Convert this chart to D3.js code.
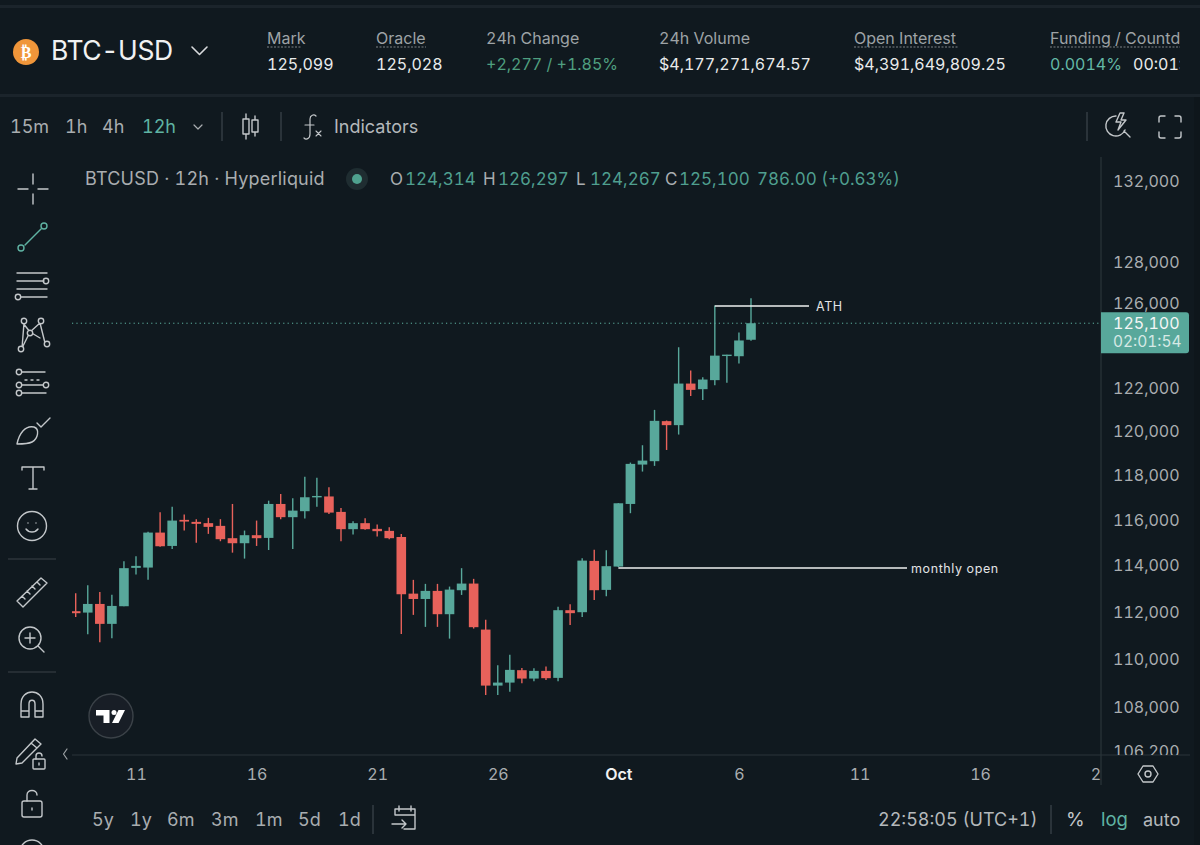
<![CDATA[<!DOCTYPE html>
<html><head><meta charset="utf-8">
<script src="https://cdnjs.cloudflare.com/ajax/libs/d3/7.9.0/d3.min.js"></script>
<style>html,body{margin:0;background:#10191f;overflow:hidden}svg{display:block}text{font-family:Inter,"Noto Sans",sans-serif;font-variant-numeric:tabular-nums;font-feature-settings:"tnum" 1}</style>
</head><body><svg id="c" width="1200" height="845"></svg>
<script>
const firstCandle = "2025-09-08T12:00:00Z";
const opens  = [112084,112025,112395,111544,112297,113953,113966,115497,114910,116058,115970,115913,115793,115250,115029,115382,115263,116765,116178,116443,117064,117100,116412,115647,115913,115661,115572,115303,112838,112608,112956,111956,112985,113272,111301,108948,109073,109590,109240,109561,109269,112127,112042,114256,112999,114009,116765,118533,118686,120513,120329,122253,121992,122413,123549,123535,124314];
const highs  = [112856,113202,112912,112795,114243,114460,115530,116399,116646,116293,116089,116147,116089,116765,115586,116027,116911,117212,117019,117978,117933,117514,116589,116001,116133,115851,115736,115436,113432,113259,113259,113142,113940,113476,111714,109799,110241,109686,109673,109740,112280,112382,114373,114746,114720,116800,118623,119411,121032,120540,123959,122862,122553,125943,123610,124655,126297];
const lows   = [111841,111105,110764,110935,112297,113662,113432,114879,114777,115586,115055,115440,115117,114616,114356,114910,114733,116089,114777,116116,116646,116323,115117,115409,115617,115320,115206,111118,111927,111416,111416,110918,112782,111344,108560,108560,108697,109048,109131,109185,109131,111501,111841,112565,112725,113990,116354,118217,118474,119195,119898,121678,121491,122179,122286,123189,124267];
const closes = [111999,112395,111544,112310,113940,114039,115497,114896,116027,115983,115882,115749,115206,115029,115382,115250,116765,116178,116469,117064,117122,116381,115647,115913,115647,115559,115250,112812,112608,112956,111956,113012,113272,111403,108948,109073,109603,109240,109561,109256,112127,112000,114269,112986,114026,116796,118564,118713,120527,120329,122253,121959,122441,123563,123610,124280,125100];
const priceTicks = [106200,108000,110000,112000,114000,116000,118000,120000,122000,126000,128000,132000];
const dateTicks = ["2025-09-11","2025-09-16","2025-09-21","2025-09-26","2025-10-01","2025-10-06","2025-10-11","2025-10-16","2025-10-21"];
const dateLabels = ["11","16","21","26","Oct","6","11","16","21"];
const lastPrice = 125100, athPrice = 125926, monthlyOpen = 113947;

const BG="#10191f", UP="#58a89b", DOWN="#e8625b", TEAL="#5fb3a3", TXT="#a9adb0", WHITE="#e9ebec", LINE="#2b343a", ICON="#c3c7ca";
const svg=d3.select("#c");
const defs=svg.append("defs");
defs.append("clipPath").attr("id","plot").append("rect").attr("x",72).attr("y",157).attr("width",1029).attr("height",598);
defs.append("clipPath").attr("id","axisY").append("rect").attr("x",1102).attr("y",157).attr("width",98).attr("height",598);
defs.append("clipPath").attr("id","axisX").append("rect").attr("x",72).attr("y",756).attr("width",1029).attr("height",34);
defs.append("clipPath").attr("id","head").append("rect").attr("x",0).attr("y",0).attr("width",1180).attr("height",95);

svg.append("rect").attr("width",1200).attr("height",845).attr("fill",BG);
[[0,5,1200,3],[0,94,1200,3]].forEach(r=>svg.append("rect").attr("x",r[0]).attr("y",r[1]).attr("width",r[2]).attr("height",r[3]).attr("fill","#1b242b"));
svg.append("rect").attr("x",1194).attr("y",97).attr("width",6).attr("height",748).attr("fill","#0e161b");

const txt=(g,x,y,s,o={})=>g.append("text").attr("x",x).attr("y",y).attr("font-size",o.size||16).attr("fill",o.fill||TXT).attr("font-weight",o.weight||400).attr("text-anchor",o.anchor||"start").style("letter-spacing",(o.ls||0)+"px").text(s);
const stroke=(g,c=ICON,w=1.4)=>g.attr("fill","none").attr("stroke",c).attr("stroke-width",w).attr("stroke-linecap","round").attr("stroke-linejoin","round");

// ---- header
const head=svg.append("g").attr("clip-path","url(#head)");
head.append("circle").attr("cx",26).attr("cy",52).attr("r",13).attr("fill","#f0963a");
txt(head,26,58,"₿",{size:16,fill:"#fff",weight:700,anchor:"middle"}).style("font-family","'DejaVu Sans'");
txt(head,51,60,"BTC-USD",{size:26.5,fill:"#f0f1f2",weight:400,ls:-.4});
stroke(head.append("path").attr("d","M192 47l7.5 7.5L207 47"),"#d8dadc",1.6);
[["Mark",267,34],["Oracle",376,50],["24h Change",486,0],["24h Volume",659,0],["Open Interest",854,104],["Funding / Countdown",1050,200]].forEach(d=>{
  txt(head,d[1],44,d[0],{fill:"#9ea3a6"});
  if(d[2]) head.append("line").attr("x1",d[1]).attr("x2",d[1]+d[2]).attr("y1",47).attr("y2",47).attr("stroke","#7d8387").attr("stroke-dasharray","2 1.5");
});
[["125,099",267,WHITE],["125,028",376,WHITE],["+2,277 / +1.85%",486,"#4f9f7f"],["$4,177,271,674.57",659,WHITE],["$4,391,649,809.25",854,WHITE],["0.0014%",1050,"#63b8a6"],["00:01:54",1133,WHITE]].forEach(d=>txt(head,d[1],70,d[0],{fill:d[2]}));

// ---- toolbar
[["15m",10,TXT],["1h",65,TXT],["4h",102,TXT],["12h",142,TEAL]].forEach(d=>txt(svg,d[1],133,d[0],{size:18,fill:d[2]}));
stroke(svg.append("path").attr("d","M194 125l4 4 4-4"),"#a9adb0",1.2);
[222,281,1087].forEach(x=>svg.append("line").attr("x1",x).attr("x2",x).attr("y1",112).attr("y2",141).attr("stroke","#3a4349").attr("stroke-width",1.3));
stroke(svg.append("path").attr("d","M246 114v5M246 134v5M243 119h6v15h-6zM255 116v4M255 132v4M252 120h6v12h-6z"));
stroke(svg.append("path").attr("d","M316 116c-2-2-6-1-6 3v15c0 5-4 6-6 4M305 125h9"),ICON,1.2);
stroke(svg.append("path").attr("d","M316 131l5 5M321 131l-5 5"),ICON,1.1);
txt(svg,334,133,"Indicators",{size:18,fill:"#b4b8bb"});
stroke(svg.append("path").attr("d","M1116 116a10 10 0 1 0 9 14M1120 113l-4 9h5l-3 8 8-10h-5l3-7zM1124 131l6 6"));
stroke(svg.append("path").attr("d","M1159 122v-4a2 2 0 0 1 2-2h4M1175 116h4a2 2 0 0 1 2 2v4M1181 132v4a2 2 0 0 1-2 2h-4M1165 138h-4a2 2 0 0 1-2-2v-4"));

// ---- scales
const yScale=d3.scaleLog().domain([108000,132000]).range([708.5,182.5]);
const t0=new Date(firstCandle);
const dates=opens.map((_,i)=>d3.utcHour.offset(t0,12*i));
const xScale=d3.scaleUtc().domain([dates[0],dates[dates.length-1]]).range([75.7,751]);
const candles=opens.map((o,i)=>({t:dates[i],o,h:highs[i],l:lows[i],c:closes[i]}));

// ---- frame lines
svg.append("line").attr("x1",72).attr("x2",1190).attr("y1",755).attr("y2",755).attr("stroke",LINE).attr("stroke-width",1.2);
svg.append("line").attr("x1",1101).attr("x2",1101).attr("y1",157).attr("y2",785).attr("stroke",LINE).attr("stroke-width",1.2);

// ---- axes
const yAxis=d3.axisRight(yScale).tickValues(priceTicks).tickSize(0).tickPadding(0).tickFormat(d3.format(","));
const gy=svg.append("g").attr("clip-path","url(#axisY)").append("g").attr("transform","translate(1113,-1)").call(yAxis);
gy.select(".domain").remove();
gy.selectAll("text").attr("x",0).attr("font-size",16).attr("fill",TXT).style("font-family","Inter");

const xAxis=d3.axisBottom(xScale).tickValues(dateTicks.map(d=>new Date(d+"T00:00:00Z"))).tickSize(0).tickPadding(0).tickFormat((d,i)=>dateLabels[i]);
const gx=svg.append("g").attr("clip-path","url(#axisX)").append("g").attr("transform","translate(0,768.5)").call(xAxis);
gx.select(".domain").remove();
gx.selectAll("text").attr("font-size",16).attr("fill",(d,i)=>dateLabels[i]==="Oct"?"#f0f1f2":TXT).attr("font-weight",(d,i)=>dateLabels[i]==="Oct"?600:400).style("font-family","Inter");

// ---- plot
const plot=svg.append("g").attr("clip-path","url(#plot)");
plot.append("line").attr("x1",72).attr("x2",1101).attr("y1",yScale(lastPrice)).attr("y2",yScale(lastPrice)).attr("stroke",TEAL).attr("stroke-width",1).attr("stroke-dasharray","1.2 3.2");
const cg=plot.selectAll("g.candle").data(candles).join("g").attr("class","candle");
cg.append("line").attr("x1",d=>xScale(d.t)).attr("x2",d=>xScale(d.t)).attr("y1",d=>yScale(d.h)).attr("y2",d=>yScale(d.l)).attr("stroke",d=>d.c>=d.o?UP:DOWN).attr("stroke-width",1.4);
cg.append("rect").attr("x",d=>xScale(d.t)-4.8).attr("width",9.6).attr("y",d=>yScale(Math.max(d.o,d.c))).attr("height",d=>Math.max(1.4,Math.abs(yScale(d.o)-yScale(d.c)))).attr("fill",d=>d.c>=d.o?UP:DOWN);

// annotations
const ann=(dateA,px,x2,label,lx)=>{
  const y=yScale(px);
  plot.append("line").attr("x1",xScale(new Date(dateA))).attr("x2",x2).attr("y1",y).attr("y2",y).attr("stroke","#eef0f0").attr("stroke-width",1.5);
  txt(plot,lx,y+5.5,label,{size:12.5,fill:"#e2e4e5",ls:.6});
};
ann("2025-10-05T00:00:00Z",athPrice,809,"ATH",816);
ann("2025-10-01T00:00:00Z",monthlyOpen,907,"monthly open",911);

// legend
txt(svg,85,185,"BTCUSD · 12h · Hyperliquid",{size:18,fill:"#a9adb0",ls:.2});
svg.append("circle").attr("cx",357).attr("cy",179).attr("r",11).attr("fill","#1f2d31");
svg.append("circle").attr("cx",357).attr("cy",179).attr("r",5).attr("fill","#4fa28f");
[["O",390,"124,314",405],["H",483,"126,297",498],["L",576,"124,267",590],["C",665,"125,100",679]].forEach(d=>{
  txt(svg,d[1],185,d[0],{size:17,fill:"#a9adb0"});
  txt(svg,d[3],185,d[2],{size:17,fill:"#4f9f8f"});
});
txt(svg,757,185,"786.00 (+0.63%)",{size:17,fill:"#4f9f8f"});

// price tag
const tag=yScale(lastPrice);
svg.append("path").attr("d",`M1101 ${tag-11}H1186a3 3 0 0 1 3 3V${tag+27}a3 3 0 0 1-3 3H1101Z`).attr("fill",UP);
txt(svg,1113,tag+6,d3.format(",")(lastPrice),{fill:"#f4f6f6"});
txt(svg,1113,tag+24,"02:01:54",{fill:"#d5e9e5",size:15.5});

// ---- left tools
const T=(x,y)=>stroke(svg.append("g").attr("transform",`translate(${x},${y})`));
let g=T(33,189);g.append("path").attr("d","M0-15v10M0 5v10M-15 0h10M5 0h10");
g=T(33,237);stroke(g,TEAL);g.append("path").attr("d","M-8 8L8-8");g.append("circle").attr("cx",-12).attr("cy",11).attr("r",3);g.append("circle").attr("cx",11).attr("cy",-11).attr("r",3);
g=T(33,286);g.append("path").attr("d","M-16-13H14M-16-5H11M-16 3H14M-12 11H14");g.append("circle").attr("cx",13).attr("cy",-5).attr("r",2.7);g.append("circle").attr("cx",-15).attr("cy",11).attr("r",2.7);
g=T(33,334);g.append("path").attr("d","M-10-11L-3-2M-3-2L7-11M7-11L12 9M7 4L-3-2M-3-2L-11 14M-11 14L-9-11");[[-9,-13],[8,-13],[-3,-1],[-12,15],[14,10]].forEach(p=>g.append("circle").attr("cx",p[0]).attr("cy",p[1]).attr("r",2.7).attr("fill",BG));
g=T(33,382);g.append("path").attr("d","M-11-10H12M-11 3H10M-11 11H13");g.append("path").attr("d","M-8-2H10").attr("stroke-dasharray","2 4");[[-14,-10],[-14,3],[-14,11],[13,3]].forEach(p=>g.append("circle").attr("cx",p[0]).attr("cy",p[1]).attr("r",2.7));
g=T(33,431);g.append("path").attr("d","M-16 13C-14 3-8-6 1-4C7-2 5 8 -1 11C-5 13-11 13-16 13ZM4-8l4 4 9-9");
g=T(33,478);g.append("path").attr("d","M-11-8V-11H11V-8M0-11V11M-4 11H4");
g=T(32,526);g.append("circle").attr("r",14.5);g.append("path").attr("d","M-6 3C-3 7 3 7 6 3M-4-3V-3M4-3V-3");
[559,672].forEach(y=>svg.append("line").attr("x1",8).attr("x2",56).attr("y1",y).attr("y2",y).attr("stroke","#3a4349"));
g=T(32,592);g.append("path").attr("d","M-15 9L9-14L15-9L-9 15ZM-10 4l3 3M-5-1l3 3M0-6l3 3M5-10l3 3");
g=T(31,639);g.append("circle").attr("cx",-1).attr("cy",-1).attr("r",11);g.append("path").attr("d","M7 7L13 13M-6-1H4M-1-6V4");
g=T(32,705);g.append("path").attr("d","M-11 12H-3V-1C-3-6 3-6 3-1V12H11V-1C11-17-11-17-11-1ZM-11 6H-3M3 6H11");
g=T(30,750);g.append("path").attr("d","M-13 8L5-11L11-6L-8 13L-14 14ZM1-7L7-2");g=T(39,760);g.append("rect").attr("x",-6).attr("y",-1).attr("width",12).attr("height",10).attr("rx",1);g.append("path").attr("d","M-3-1V-4C-3-8 3-8 3-4M0 3V5");
g=T(32,803);g.append("rect").attr("x",-10).attr("y",-2).attr("width",20).attr("height",16).attr("rx",2);g.append("path").attr("d","M-5-2V-8C-5-14 5-14 5-8M0 5V7");
g=T(32,852);g.append("circle").attr("r",12);
stroke(svg.append("path").attr("d","M67 749l-3.5 5 3.5 5"),"#9ea3a6",1.2);

// TV logo
svg.append("circle").attr("cx",111).attr("cy",716).attr("r",22).attr("fill","#181e26").attr("stroke","#3b4248").attr("stroke-width",1.4);
svg.append("path").attr("d","M96 710h13.5v13h-6v-7.5H96zM112 723l6.5-13h6.5l-6.5 13z").attr("fill","#fff");
svg.append("circle").attr("cx",114).attr("cy",712.5).attr("r",2.5).attr("fill","#fff");

// hexagon settings
g=T(1148,774);g.append("path").attr("d","M-10 0L-5-8H5L10 0L5 8H-5Z");g.append("circle").attr("r",3);

// ---- bottom bar
[["5y",92],["1y",130],["6m",167],["3m",211],["1m",255],["5d",298],["1d",338]].forEach(d=>txt(svg,d[1],826,d[0],{size:18,fill:TXT}));
[373,1051].forEach(x=>svg.append("line").attr("x1",x).attr("x2",x).attr("y1",805).attr("y2",834).attr("stroke","#3a4349").attr("stroke-width",1.3));
g=T(404,819);g.append("path").attr("d","M-9-4V-10H11V10H0M-9-4H11M-5-13V-8M7-13V-8M-12 5H2M-2 1L2 5L-2 9");
txt(svg,878,826,"22:58:05 (UTC+1)",{size:18,fill:"#b4b8bb"});
txt(svg,1066,826,"%",{size:19,fill:"#c3c7ca"});
txt(svg,1101,826,"log",{size:18.5,fill:TEAL});
txt(svg,1143,826,"auto",{size:18,fill:"#b4b8bb"});
</script></body></html>]]>
